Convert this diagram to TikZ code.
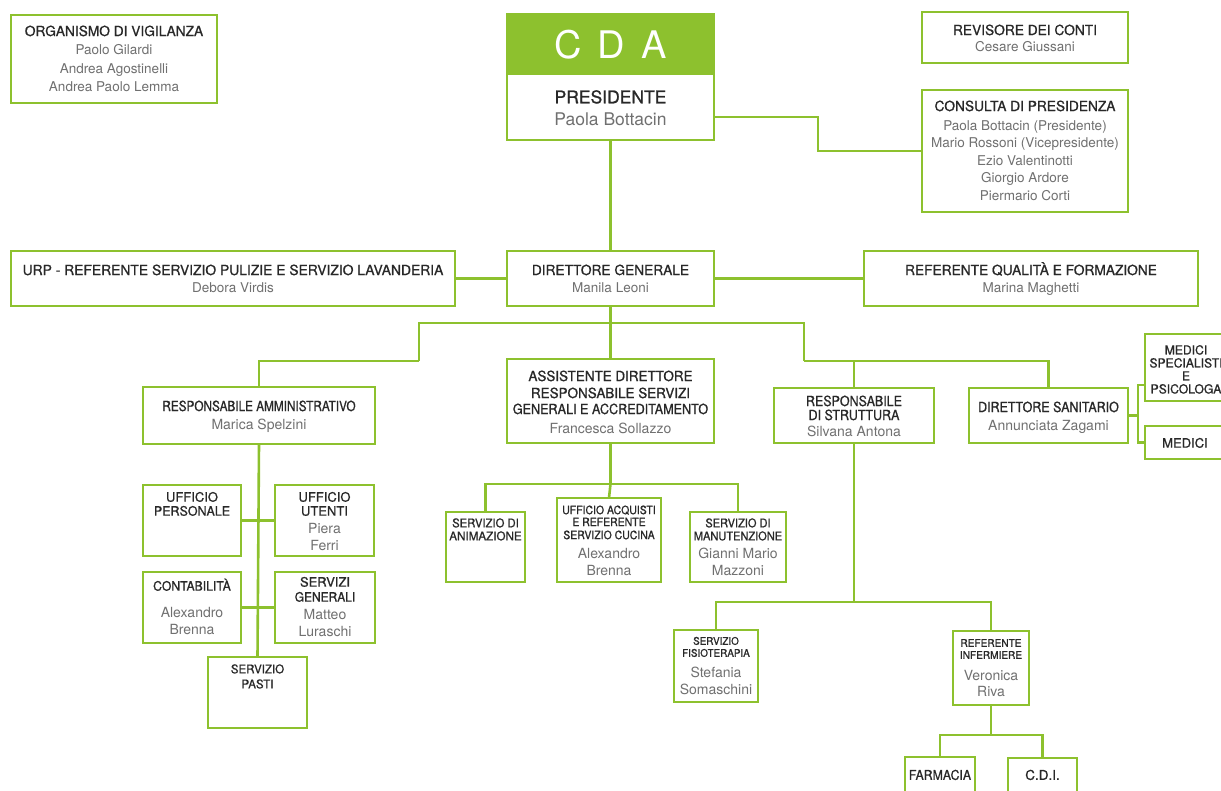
\documentclass[tikz,border=0pt]{standalone}
\usepackage{fontspec}
\setmainfont{TeX Gyre Heros}
\newfontfamily\ttlfont[FakeBold=0.9]{TeX Gyre Heros}
\usepackage{graphicx}
\definecolor{grn}{RGB}{141,193,46}
\definecolor{tcol}{RGB}{40,40,40}
\definecolor{ncol}{RGB}{112,112,112}
\newcounter{tn}
\tikzset{
  box/.style={draw=grn, line width=2.6pt, fill=white, inner sep=0pt, outer sep=0pt},
  wire/.style={draw=grn, line width=2.6pt},
  txt/.style={inner sep=0pt, outer sep=0pt, anchor=base, align=center}
}
% box: name, x1, y1, x2, y2
\newcommand\Bx[5]{\node[box, minimum width={#4pt-#2pt}, minimum height={#5pt-#3pt}] (#1) at ({(#2+#4)/2},{(#3+#5)/2}) {};}
% text: x, y(center of caps), size, hscale, colour, text
\newcommand\Tx[6]{\stepcounter{tn}\node[txt, text=#5, font=\fontsize{#3}{#3}\selectfont] (tx\arabic{tn}) at (#1,{#2+0.36*#3}) {\scalebox{#4}[1]{#6}};}
\newcommand\Ti[4]{\Tx{#1}{#2}{#3}{#4}{tcol}}
\newcommand\Tb[5]{\Tx{#1}{#2}{#3}{#4}{tcol}{\ttlfont #5}}
\newcommand\Nm[3]{\Tx{#1}{#2}{#3}{1}{ncol}}
\begin{document}
\begin{tikzpicture}[x=1pt,y=-1pt]
\useasboundingbox (0,0) rectangle (1221,791);
% ---------- boxes ----------
\Bx{org}{11}{15}{217}{103}
\Bx{cda}{507}{14}{714}{140}
\node[box, fill=grn, minimum width=207pt, minimum height=60pt] (cdah) at (610.5,44) {};
\Bx{rev}{922}{12}{1128}{63}
\Bx{cons}{922}{90}{1128}{212}
\Bx{urp}{11}{251}{455}{306}
\Bx{dg}{507}{251}{714}{306}
\Bx{rq}{864}{251}{1198}{306}
\Bx{ra}{143}{387}{375}{444}
\Bx{as}{507}{359}{714}{443}
\Bx{rs}{774}{388}{934}{443}
\Bx{ds}{969}{388}{1128}{443}
\Bx{ms}{1145}{334}{1228}{401}
\Bx{md}{1145}{426}{1228}{459}
\Bx{up}{143}{485}{241}{556}
\Bx{uu}{275}{485}{374}{556}
\Bx{co}{143}{572}{241}{643}
\Bx{sg}{275}{572}{375}{643}
\Bx{sp}{208}{657}{307}{728}
\Bx{an}{446}{512}{525}{582}
\Bx{ua}{557}{498}{661}{582}
\Bx{mn}{690}{512}{786}{582}
\Bx{fi}{674}{630}{758}{702}
\Bx{ri}{953}{631}{1029}{705}
\Bx{fa}{905}{757}{975}{800}
\Bx{cd}{1008}{758}{1077}{800}
% ---------- connectors ----------
\coordinate (cc) at (818,117);
\draw[wire] (cons.west) -| (cc) -- (cda.east |- cc);
\draw[wire] (cda.south) -- (dg.north);
\draw[wire] (urp.east) -- (dg.west);
\draw[wire] (dg.east) -- (rq.west);
\coordinate (b0) at (610.5,323);
\coordinate (bL) at (419,361);
\coordinate (bR) at (804,361);
\draw[wire] (dg.south) -- (b0);
\draw[wire] (bL) |- (b0) -| (bR);
\draw[wire] (bL) -| (ra.north);
\draw[wire] (b0) -- (as.north);
\draw[wire] (rs.north) |- (bR) -| (ds.north);
\coordinate (mtop) at (1138,385);
\draw[wire] (ms.west |- mtop) -- (mtop) |- (md.west);
\draw[wire] (ds.east) -- (ds.east -| mtop);
\draw[wire] (ra.south) -- (sp.north);
\draw[wire] (up.east) -- (uu.west);
\draw[wire] (co.east) -- (sg.west);
\coordinate (a0) at (610.5,484);
\draw[wire] (as.south) -- (a0);
\draw[wire] (an.north) |- (a0) -| (mn.north);
\draw[wire] (a0) -- (ua.north);
\coordinate (s0) at (854,602);
\draw[wire] (rs.south) -- (s0);
\draw[wire] (fi.north) |- (s0) -| (ri.north);
\coordinate (r0) at (991,735);
\draw[wire] (ri.south) -- (r0);
\draw[wire] (fa.north) |- (r0) -| (cd.north);
% ---------- texts ----------
\Tb{114}{31}{14}{0.98}{ORGANISMO DI VIGILANZA}
\Nm{114}{50}{13.5}{Paolo Gilardi}
\Nm{114}{69}{13.5}{Andrea Agostinelli}
\Nm{114}{87}{13.5}{Andrea Paolo Lemma}
\Tx{610.5}{45}{38}{1}{white}{C\hspace{0.42em}D\hspace{0.42em}A}
\Tb{610.5}{97}{17.5}{1}{PRESIDENTE}
\Nm{610.5}{119}{17.5}{Paola Bottacin}
\Tb{1025}{30}{14}{0.98}{REVISORE DEI CONTI}
\Nm{1025}{47}{13.5}{Cesare Giussani}
\Tb{1025}{106}{14}{0.98}{CONSULTA DI PRESIDENZA}
\Nm{1025}{126}{13.5}{Paola Bottacin (Presidente)}
\Nm{1025}{143}{13.5}{Mario Rossoni (Vicepresidente)}
\Nm{1025}{161}{13.5}{Ezio Valentinotti}
\Nm{1025}{178}{13.5}{Giorgio Ardore}
\Nm{1025}{196}{13.5}{Piermario Corti}
\Tb{233}{270}{14}{0.99}{URP - REFERENTE SERVIZIO PULIZIE E SERVIZIO LAVANDERIA}
\Nm{233}{288}{13.5}{Debora Virdis}
\Tb{610.5}{270}{14}{0.98}{DIRETTORE GENERALE}
\Nm{610.5}{288}{13.5}{Manila Leoni}
\Tb{1031}{270}{14}{0.98}{REFERENTE QUALITÀ E FORMAZIONE}
\Nm{1031}{288}{13.5}{Marina Maghetti}
\Tb{259}{406}{14}{0.84}{RESPONSABILE AMMINISTRATIVO}
\Nm{259}{424}{14}{Marica Spelzini}
\Tb{610.5}{376}{14}{0.96}{ASSISTENTE DIRETTORE}
\Tb{610.5}{393}{14}{0.96}{RESPONSABILE SERVIZI}
\Tb{610.5}{409}{14}{0.9}{GENERALI E ACCREDITAMENTO}
\Nm{610.5}{428}{14}{Francesca Sollazzo}
\Tb{854}{401}{14}{0.89}{RESPONSABILE}
\Tb{854}{415}{14}{0.89}{DI STRUTTURA}
\Nm{854}{431}{14}{Silvana Antona}
\Tb{1048.5}{407}{14}{0.89}{DIRETTORE SANITARIO}
\Nm{1048.5}{425}{14}{Annunciata Zagami}
\Tb{1186}{350}{12.5}{0.97}{MEDICI}
\Tb{1186}{363}{12.5}{0.97}{SPECIALISTI}
\Tb{1186}{376}{12.5}{0.97}{E}
\Tb{1186}{389}{12.5}{0.97}{PSICOLOGA}
\Tb{1185}{443}{13}{1}{MEDICI}
\Tb{192}{497}{13}{1}{UFFICIO}
\Tb{192}{511}{13}{0.96}{PERSONALE}
\Tb{324.5}{497}{13}{1}{UFFICIO}
\Tb{324.5}{511}{13}{1}{UTENTI}
\Nm{324.5}{528}{14}{Piera}
\Nm{324.5}{545}{14}{Ferri}
\Tb{192}{586}{13}{0.94}{CONTABILITÀ}
\Nm{192}{612}{14}{Alexandro}
\Nm{192}{629}{14}{Brenna}
\Tb{325}{582}{13}{1}{SERVIZI}
\Tb{325}{597}{13}{0.92}{GENERALI}
\Nm{325}{614}{14}{Matteo}
\Nm{325}{631}{14}{Luraschi}
\Tb{257.5}{669}{12}{0.96}{SERVIZIO}
\Tb{257.5}{684}{12}{0.96}{PASTI}
\Tb{485.5}{523}{12}{0.94}{SERVIZIO DI}
\Tb{485.5}{536}{12}{0.97}{ANIMAZIONE}
\Tb{609}{510}{11.5}{0.91}{UFFICIO ACQUISTI}
\Tb{609}{522}{11.5}{0.91}{E REFERENTE}
\Tb{609}{535}{11.5}{0.91}{SERVIZIO CUCINA}
\Nm{609}{553}{14}{Alexandro}
\Nm{609}{570}{14}{Brenna}
\Tb{738}{523}{12}{0.92}{SERVIZIO DI}
\Tb{738}{536}{12}{0.92}{MANUTENZIONE}
\Nm{738}{553}{14}{Gianni Mario}
\Nm{738}{570}{14}{Mazzoni}
\Tb{716}{641}{10.5}{0.94}{SERVIZIO}
\Tb{716}{653}{10.5}{0.94}{FISIOTERAPIA}
\Nm{716}{672}{14}{Stefania}
\Nm{716}{689}{14}{Somaschini}
\Tb{991}{643}{10.5}{0.96}{REFERENTE}
\Tb{991}{655}{10.5}{0.96}{INFERMIERE}
\Nm{991}{675}{14}{Veronica}
\Nm{991}{691}{14}{Riva}
\Tb{940}{775}{13.5}{0.91}{FARMACIA}
\Tb{1042.5}{775}{13.5}{1}{C.D.I.}
\end{tikzpicture}
\end{document}
